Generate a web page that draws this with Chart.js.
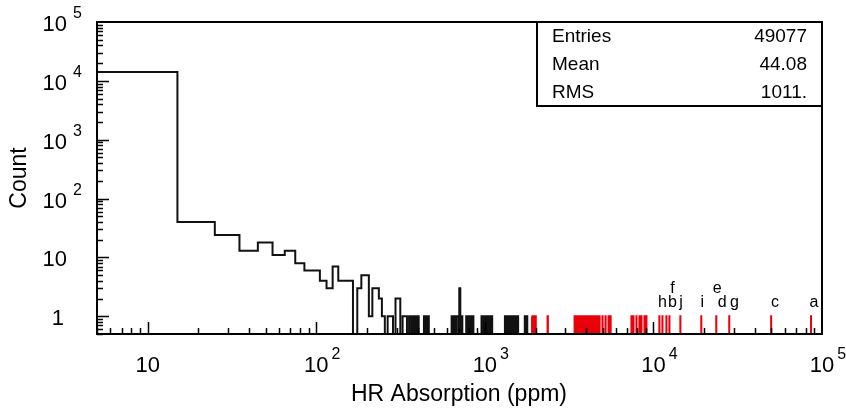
<!DOCTYPE html>
<html>
<head>
<meta charset="utf-8">
<script src="https://cdn.jsdelivr.net/npm/chart.js@4.4.1/dist/chart.umd.min.js"></script>
<style>
  html, body { margin: 0; padding: 0; background: #fff; }
  #wrap { width: 846px; height: 410px; }
</style>
</head>
<body>
<div id="wrap"><canvas id="histChart" width="846" height="410"></canvas></div>
<script>
// uniform 10 ppm bins, first edge at 5 ppm
const binStart = 5;
const binWidth = 10;

// contiguous bins 5-15, 15-25, ... 205-215
const lowCounts = [14200, 40, 24, 13, 18, 11, 13, 8, 6, 6, 4, 3, 7, 4, 4, 4, 0, 3, 5, 5, 1];

// the sparse black entries above that (value, count)
const blackValues = [215, 225, 235, 245, 265, 275, 295, 305, 325, 335, 355, 375, 395, 435, 455,
  640, 655, 675, 690, 711, 730, 780, 805, 825, 850,
  960, 985, 1015, 1040, 1070, 1100,
  1315, 1350, 1385, 1425, 1465, 1505, 1545, 1565, 1725, 1775];
const blackCounts = [3, 3, 2, 1, 1, 1, 2, 2, 1, 1, 1, 1, 1, 1, 1,
  1, 1, 1, 1, 3, 1, 1, 1, 1, 1,
  1, 1, 1, 1, 1, 1,
  1, 1, 1, 1, 1, 1, 1, 1, 1, 1];

// red entries, one count each
const redValues = [1900, 1950, 2000, 2360,
  3410, 3500, 3600, 3650, 3750, 3850, 3960, 4070, 4180, 4300, 4420, 4540, 4660, 4790, 4990, 5200, 5420, 5570,
  7410, 7610, 7930, 8260, 8490, 8850, 9090,
  10850, 11310, 11940, 12440, 14450, 19230, 23600, 28170, 49930, 86100];

// sample letters over the red lines (row 1 = upper line)
const sampleNames = ["a", "c", "g", "d", "e", "i", "j", "b", "f", "h"];
const sampleValues = [89700, 52700, 30200, 25600, 23900, 19500, 14600, 12950, 12950, 11300];
const sampleRows = [0, 0, 0, 0, 1, 0, 0, 0, 1, 0];

const statNames = ["Entries", "Mean", "RMS"];
const statValues = ["49077", "44.08", "1011."];

const xLabelPowers = [1, 2, 3, 4, 5];
const yLabelPowers = [0, 1, 2, 3, 4, 5];

const EMPTY = 0.05; // empty bin, below the frame (clipped)

function binIndex(v) { return Math.floor((v - binStart) / binWidth); }
function edge(k) { return binStart + k * binWidth; }

function stepPoints(bins) {
  const pts = [];
  let prev = null;
  bins.forEach(([k, c]) => {
    if (prev !== null && k !== prev + 1) pts.push({ x: edge(prev + 1), y: EMPTY });
    pts.push({ x: edge(k), y: c > 0 ? c : EMPTY });
    prev = k;
  });
  pts.push({ x: edge(prev + 1), y: EMPTY });
  return pts;
}

function collect(pairs) {
  const m = new Map();
  pairs.forEach(([k, c]) => m.set(k, (m.get(k) || 0) + c));
  return [...m.entries()].sort((a, b) => a[0] - b[0]);
}

const blackBins = collect(lowCounts.map((c, i) => [i, c])
  .concat(blackValues.map((v, i) => [binIndex(v), blackCounts[i]])));
const redBins = collect(redValues.map(v => [binIndex(v), 1]));

const FONT = "'Liberation Sans', Arial, sans-serif";

function drawPow(ctx, exp, cx, baseY, align) {
  // "10" with a raised exponent; align 'center' (x axis) or 'right' (y axis)
  ctx.font = "22px " + FONT;
  const w = ctx.measureText("10").width;
  let left = align === "center" ? cx - w / 2 : cx - w;
  ctx.textAlign = "left";
  ctx.textBaseline = "alphabetic";
  ctx.fillText("10", left, baseY);
  if (exp !== 1) {
    ctx.font = "16px " + FONT;
    ctx.fillText(String(exp), left + w + (align === "center" ? 3 : 6), baseY - 13);
  }
}

const frameAndText = {
  id: "frameAndText",
  afterDatasetsDraw(chart) {
    const { ctx, chartArea: a, scales } = chart;
    const x = scales.x, y = scales.y;
    ctx.save();
    ctx.strokeStyle = "#000";
    ctx.fillStyle = "#000";

    // ticks, drawn inside the frame
    ctx.lineWidth = 1.5;
    ctx.beginPath();
    for (let e = -1; e <= 4; e++) {
      for (let m = 1; m <= 9; m++) {
        const v = m * Math.pow(10, e);
        if (v < y.min || v > y.max) continue;
        const py = Math.round(y.getPixelForValue(v)) + 0.5;
        ctx.moveTo(a.left, py);
        ctx.lineTo(a.left + (m === 1 ? 12 : 6), py);
      }
    }
    for (let e = 0; e <= 4; e++) {
      for (let m = 1; m <= 9; m++) {
        const v = m * Math.pow(10, e);
        if (v < x.min || v > x.max) continue;
        const px = Math.round(x.getPixelForValue(v)) + 0.5;
        ctx.moveTo(px, a.bottom);
        ctx.lineTo(px, a.bottom - (m === 1 ? 12 : 6));
      }
    }
    ctx.stroke();

    // frame
    ctx.lineWidth = 2;
    ctx.strokeRect(a.left, a.top, a.right - a.left, a.bottom - a.top);

    // y tick labels
    yLabelPowers.forEach(p => {
      const py = y.getPixelForValue(Math.pow(10, p));
      if (p === 0) {
        ctx.font = "22px " + FONT;
        ctx.textAlign = "right";
        ctx.textBaseline = "alphabetic";
        ctx.fillText("1", 64, py + 9);
      } else {
        drawPow(ctx, p, 67, py + 9, "right");
      }
    });
    // x tick labels
    xLabelPowers.forEach(p => {
      const px = x.getPixelForValue(Math.pow(10, p));
      drawPow(ctx, p, px, 372, "center");
    });

    // axis titles
    ctx.font = "23px " + FONT;
    ctx.textAlign = "center";
    ctx.textBaseline = "alphabetic";
    ctx.fillText("HR Absorption (ppm)", 459, 401);
    ctx.save();
    ctx.translate(26, 178);
    ctx.rotate(-Math.PI / 2);
    ctx.fillText("Count", 0, 0);
    ctx.restore();

    // sample letters
    ctx.font = "16px " + FONT;
    ctx.textAlign = "center";
    sampleNames.forEach((n, i) => {
      const px = x.getPixelForValue(sampleValues[i]);
      ctx.fillText(n, px, sampleRows[i] ? 293 : 307);
    });

    // stats box
    const bx = 537, by = a.top, bw = a.right - 537, bh = 84;
    ctx.fillStyle = "#fff";
    ctx.fillRect(bx, by, bw, bh);
    ctx.lineWidth = 2;
    ctx.strokeRect(bx, by, bw, bh);
    ctx.fillStyle = "#000";
    ctx.font = "19px " + FONT;
    ctx.textBaseline = "middle";
    statNames.forEach((n, i) => {
      const ry = by + 15 + i * 28;
      ctx.textAlign = "left";
      ctx.fillText(n, 552, ry);
      ctx.textAlign = "right";
      ctx.fillText(statValues[i], 807, ry);
    });
    ctx.restore();
  }
};

new Chart(document.getElementById("histChart"), {
  type: "line",
  data: {
    datasets: [
      {
        label: "red",
        data: stepPoints(redBins),
        borderColor: "#e8000b",
        borderWidth: 2,
        stepped: true,
        pointRadius: 0,
        fill: false,
      },
      {
        label: "all",
        data: stepPoints(blackBins),
        borderColor: "#111",
        borderWidth: 2,
        stepped: true,
        pointRadius: 0,
        fill: false,
      },
    ],
  },
  options: {
    responsive: false,
    animation: false,
    devicePixelRatio: 1,
    layout: { padding: { left: 97, top: 22, right: 24, bottom: 76 } },
    scales: {
      x: { type: "logarithmic", min: 5, max: 100000, display: false },
      y: { type: "logarithmic", min: 0.5, max: 100000, display: false },
    },
    plugins: {
      legend: { display: false },
      tooltip: { enabled: false },
    },
  },
  plugins: [frameAndText],
});
</script>
</body>
</html>
